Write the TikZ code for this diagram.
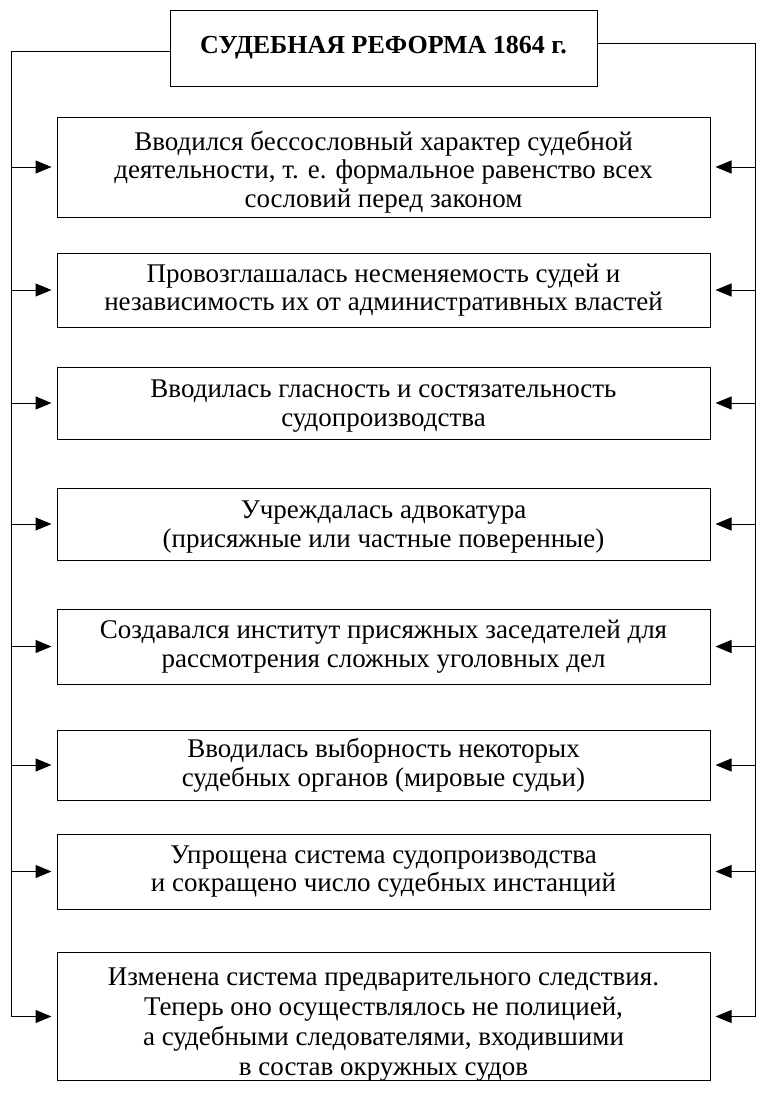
\documentclass[tikz,border=0pt]{standalone}
\usepackage{fontspec}
\setmainfont{Liberation Serif}
\usetikzlibrary{arrows.meta, positioning}

\newcommand{\toppad}[1]{\rule{0pt}{#1}}

\begin{document}
\begin{tikzpicture}[
    x=1pt, y=-1pt,
    heading/.style={draw, line width=1pt, minimum width=427pt, minimum height=76pt, font=\fontsize{26}{30}\selectfont\bfseries, align=center},
    reform/.style={draw, line width=1pt, minimum width=653pt, inner sep=0pt, font=\fontsize{27}{28.5}\selectfont, align=center},
    rail/.style={line width=1pt},
    arrow/.style={-{Triangle[length=16pt, width=13pt]}, line width=1pt, shorten >=5pt}
]
    \useasboundingbox (0,0) rectangle (778,1111);

    % Title
    \node[heading] (reform) at (383.5,48) {СУДЕБНАЯ РЕФОРМА 1864 г.};

    % Nodes - items
    \node[reform, minimum height=100pt] (b1) at (383.5,167) {\toppad{29pt}Вводился бессословный характер судебной\\деятельности, т. е. формальное равенство всех\\сословий перед законом};
    \node[reform, minimum height=74pt] (b2) at (383.5,290) {Провозглашалась несменяемость судей и\\независимость их от административных властей};
    \node[reform, minimum height=72pt] (b3) at (383.5,403) {\toppad{24pt}Вводилась гласность и состязательность\\судопроизводства};
    \node[reform, minimum height=72pt] (b4) at (383.5,524) {\toppad{24pt}Учреждалась адвокатура\\(присяжные или частные поверенные)};
    \node[reform, minimum height=75pt] (b5) at (383.5,646.5) {Создавался институт присяжных заседателей для\\рассмотрения сложных уголовных дел};
    \node[reform, minimum height=70pt] (b6) at (383.5,765) {Вводилась выборность некоторых\\судебных органов (мировые судьи)};
    \node[reform, minimum height=75pt] (b7) at (383.5,871.5) {Упрощена система судопроизводства\\и сокращено число судебных инстанций};
    \node[reform, minimum height=125pt, font=\fontsize{27}{30}\selectfont] (b8) at (383.5,1016.5) {\toppad{33pt}Изменена система предварительного следствия.\\Теперь оно осуществлялось не полицией,\\а судебными следователями, входившими\\в состав окружных судов};

    % Rails
    \coordinate (lrail) at (11,1016.5);
    \coordinate (rrail) at (755,1016.5);
    \draw[rail] ([yshift=-3pt]reform.west) -| (lrail);
    \draw[rail] ([yshift=5pt]reform.east) -| (rrail);

    % Arrows
    \foreach \i in {1,...,8} {
        \draw[arrow] (b\i.west -| lrail) -- (b\i.west);
        \draw[arrow] (b\i.east -| rrail) -- (b\i.east);
    }
\end{tikzpicture}
\end{document}
